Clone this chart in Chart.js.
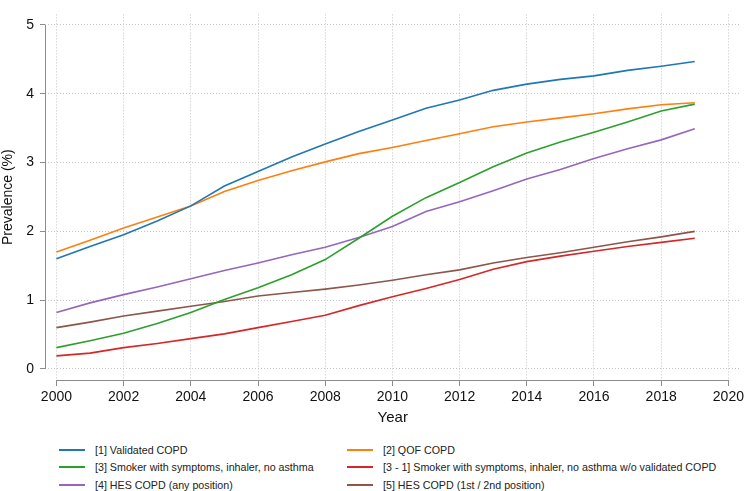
<!DOCTYPE html>
<html lang="en">
<head>
    <meta charset="UTF-8">
    <title>COPD prevalence</title>
    <script src="https://cdn.jsdelivr.net/npm/chart.js"></script>
    <style>
        body { margin: 0; background: #fff; font-family: "Liberation Sans", Arial, sans-serif; }
        #wrap { position: relative; width: 747px; height: 491px; }
        #box { position: absolute; left: 0; top: 0; width: 747px; height: 435px; }
        #legend { position: absolute; left: 0; top: 440px; width: 747px; }
        .item { position: absolute; font-size: 10.7px; color: #222; white-space: nowrap; line-height: 14px; }
        .item span.sw { position: absolute; top: 6px; height: 2px; width: 26px; }
        .item span.tx { position: absolute; white-space: nowrap; }
    </style>
</head>
<body>
<div id="wrap">
    <div id="box"><canvas id="myChart"></canvas></div>
    <div id="legend"></div>
</div>
<script>
    // data
    const years = [2000, 2001, 2002, 2003, 2004, 2005, 2006, 2007, 2008, 2009,
                   2010, 2011, 2012, 2013, 2014, 2015, 2016, 2017, 2018, 2019];
    const validatedCopd = [1.60, 1.78, 1.95, 2.15, 2.37, 2.66, 2.87, 3.08, 3.27, 3.45,
                           3.62, 3.79, 3.91, 4.05, 4.14, 4.21, 4.26, 4.34, 4.40, 4.47];
    const qofCopd = [1.70, 1.87, 2.05, 2.21, 2.37, 2.58, 2.74, 2.88, 3.01, 3.13,
                     3.22, 3.32, 3.42, 3.52, 3.59, 3.65, 3.71, 3.78, 3.84, 3.87];
    const smokerSymptoms = [0.31, 0.41, 0.52, 0.66, 0.82, 1.01, 1.18, 1.37, 1.59, 1.90,
                            2.22, 2.49, 2.71, 2.94, 3.14, 3.30, 3.44, 3.59, 3.75, 3.85];
    const smokerNoValidated = [0.19, 0.23, 0.31, 0.37, 0.44, 0.51, 0.60, 0.69, 0.78, 0.92,
                               1.05, 1.17, 1.30, 1.45, 1.56, 1.64, 1.71, 1.78, 1.84, 1.90];
    const hesAny = [0.82, 0.96, 1.08, 1.19, 1.31, 1.43, 1.54, 1.66, 1.77, 1.91,
                    2.07, 2.29, 2.43, 2.59, 2.76, 2.90, 3.06, 3.20, 3.33, 3.49];
    const hes12 = [0.60, 0.68, 0.77, 0.84, 0.91, 0.98, 1.06, 1.11, 1.16, 1.22,
                   1.29, 1.37, 1.44, 1.54, 1.62, 1.69, 1.77, 1.85, 1.92, 2.00];
    const seriesLabels = [
        '[1] Validated COPD',
        '[2] QOF COPD',
        '[3] Smoker with symptoms, inhaler, no asthma',
        '[3 - 1] Smoker with symptoms, inhaler, no asthma w/o validated COPD',
        '[4] HES COPD (any position)',
        '[5] HES COPD (1st / 2nd position)'
    ];
    const xTicks = [2000, 2002, 2004, 2006, 2008, 2010, 2012, 2014, 2016, 2018, 2020];
    const yTicks = [0, 1, 2, 3, 4, 5];

    const colors = ['#1f77b4', '#ff7f0e', '#2ca02c', '#d62728', '#9467bd', '#8c564b'];
    const allSeries = [validatedCopd, qofCopd, smokerSymptoms, smokerNoValidated, hesAny, hes12];

    function toPoints(values) {
        return values.map((v, i) => ({ x: years[i], y: v }));
    }

    // stata style axis lines, only spanning the tick range
    const axisLines = {
        id: 'axisLines',
        afterDraw(chart) {
            const ctx = chart.ctx;
            const xs = chart.scales.x, ys = chart.scales.y;
            const area = chart.chartArea;
            ctx.save();
            ctx.strokeStyle = '#8c8c8c';
            ctx.lineWidth = 1;
            ctx.beginPath();
            ctx.moveTo(area.left + 0.5, ys.getPixelForValue(5));
            ctx.lineTo(area.left + 0.5, ys.getPixelForValue(0));
            ctx.moveTo(xs.getPixelForValue(2000), area.bottom + 0.5);
            ctx.lineTo(xs.getPixelForValue(2020), area.bottom + 0.5);
            ctx.stroke();
            ctx.restore();
        }
    };

    const font = "'Liberation Sans', Arial, sans-serif";

    let ctx = document.getElementById('myChart').getContext('2d');
    let myChart = new Chart(ctx, {
        type: 'line',
        data: {
            datasets: allSeries.map((s, i) => ({
                label: seriesLabels[i],
                data: toPoints(s),
                borderColor: colors[i],
                backgroundColor: colors[i],
                borderWidth: 1.6,
                pointRadius: 0,
                tension: 0,
                fill: false
            }))
        },
        options: {
            responsive: true,
            maintainAspectRatio: false,
            animation: false,
            layout: { padding: { top: 0, right: 3, left: 0, bottom: 0 } },
            plugins: {
                legend: { display: false },
                tooltip: { enabled: false }
            },
            scales: {
                x: {
                    type: 'linear',
                    min: 1999.66,
                    max: 2020.36,
                    afterBuildTicks: (scale) => { scale.ticks = xTicks.map(v => ({ value: v })); },
                    afterFit: (scale) => { scale.height = 55; },
                    grid: {
                        color: '#c4c4c4',
                        lineWidth: 1,
                        tickLength: 6,
                        tickColor: '#8c8c8c',
                        tickBorderDash: []
                    },
                    border: { display: false, dash: [1, 2] },
                    ticks: {
                        color: '#111',
                        padding: 3,
                        maxRotation: 0,
                        font: { family: font, size: 14 },
                        callback: (v) => String(v)
                    },
                    title: {
                        display: true,
                        text: 'Year',
                        color: '#111',
                        font: { family: font, size: 15 },
                        padding: { top: 0, bottom: 8 }
                    }
                },
                y: {
                    min: -0.161,
                    max: 5.154,
                    afterBuildTicks: (scale) => { scale.ticks = yTicks.map(v => ({ value: v })); },
                    afterFit: (scale) => { scale.width = 45; },
                    grid: {
                        color: '#c4c4c4',
                        lineWidth: 1,
                        tickLength: 5,
                        tickColor: '#8c8c8c',
                        tickBorderDash: []
                    },
                    border: { display: false, dash: [1, 2] },
                    ticks: {
                        color: '#111',
                        padding: 6,
                        font: { family: font, size: 14 }
                    },
                    title: {
                        display: true,
                        text: 'Prevalence (%)',
                        color: '#111',
                        font: { family: font, size: 14 },
                        padding: { top: 0, bottom: 0 }
                    }
                }
            }
        },
        plugins: [axisLines]
    });

    // legend in two columns under the chart
    const legendPos = [
        [59, 3], [347, 3], [59, 20], [347, 20], [59, 38], [347, 38]
    ];
    const legendBox = document.getElementById('legend');
    myChart.data.datasets.forEach((ds, i) => {
        const item = document.createElement('div');
        item.className = 'item';
        item.style.left = legendPos[i][0] + 'px';
        item.style.top = legendPos[i][1] + 'px';
        item.innerHTML = '<span class="sw" style="left:0;background:' + ds.borderColor + '"></span>' +
            '<span class="tx" style="left:36px">' + ds.label + '</span>';
        legendBox.appendChild(item);
    });
</script>
</body>
</html>
